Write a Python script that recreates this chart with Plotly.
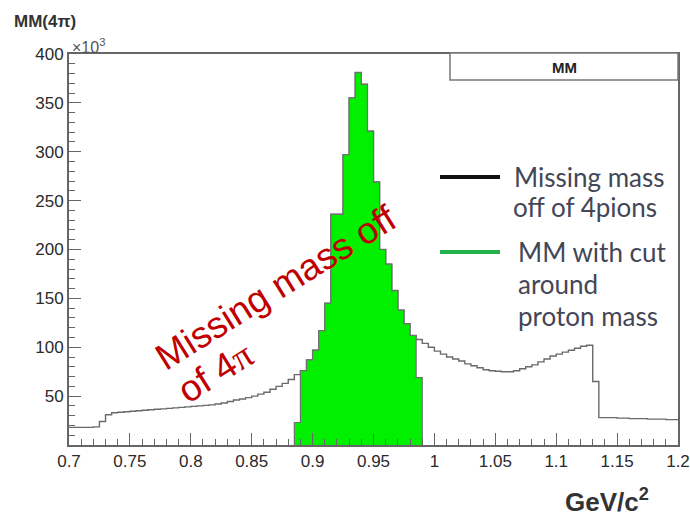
import plotly.graph_objects as go

# ---------------- data ----------------
BIN_LO = 0.700
BIN_W = 0.005
# Missing mass off of 4 pions (all events), 100 bins from 0.700 to 1.200, units of 10^3
MM_ALL = [18, 18, 18, 18, 18.5, 24, 31, 33, 33.5, 34,
          34.5, 35, 35.5, 36, 36.5, 37, 37.5, 38, 38.5, 39,
          39.5, 40, 40.5, 41, 42, 43, 44.5, 46, 47, 48.5,
          50, 52, 54, 57, 60, 63, 67, 72, 76, 87,
          97, 117, 145, 236, 236, 297, 355, 381, 369, 321,
          269, 200, 185, 158, 138, 124, 112, 108, 104, 100,
          96, 93, 90, 88, 86, 83, 81, 79, 77, 76,
          75.5, 75, 75, 76, 78, 80, 82, 85, 88, 91,
          93, 95, 97, 99, 101, 102, 65, 28, 28, 28,
          27.5, 27.5, 27, 27, 27, 26.5, 26.5, 26.5, 26, 26]
# MM with cut around proton mass: 21 bins from 0.885 to 0.990
CUT_LO = 0.885
MM_CUT = [23, 76, 87, 97, 117, 145, 236, 236, 297, 355, 381,
          369, 321, 269, 200, 185, 158, 138, 124, 112, 69]

X_RANGE = [0.7, 1.2]
Y_RANGE = [0, 400]
Y_TICKS = [50, 100, 150, 200, 250, 300, 350, 400]

LEGEND_1 = ["Missing mass", "off of 4pions"]
LEGEND_2 = ["MM with cut", "around", "proton mass"]

# ---------------- build steps ----------------
n_all = len(MM_ALL)
edges_all = [round(BIN_LO + i * BIN_W, 4) for i in range(n_all + 1)]
x_all = edges_all
y_all = MM_ALL + [MM_ALL[-1]]

n_cut = len(MM_CUT)
edges_cut = [round(CUT_LO + i * BIN_W, 4) for i in range(n_cut + 1)]
x_cut = [edges_cut[0]] + edges_cut[:-1] + [edges_cut[-1]]
y_cut = [0] + MM_CUT + [0]

W, H = 690, 516
L, R, T, B = 69, 12, 54, 71
PW, PH = W - L - R, H - T - B


def px(xp):
    return (xp - L) / PW


def py(yp):
    return (H - B - yp) / PH


fig = go.Figure()
fig.add_trace(go.Scatter(x=x_all, y=y_all, mode="lines", line_shape="hv",
                         line=dict(color="#6a6a6a", width=1.4),
                         showlegend=False, hoverinfo="skip"))
fig.add_trace(go.Scatter(x=x_cut, y=y_cut, mode="lines", line_shape="hv",
                         fill="tozeroy", fillcolor="#00f000",
                         line=dict(color="#707070", width=1.2),
                         showlegend=False, hoverinfo="skip"))

tickfont = dict(family="Liberation Sans, Arial, sans-serif", size=17, color="#2a2a2a")
axcol = "#666666"

fig.update_xaxes(range=X_RANGE, tickmode="linear", tick0=0.7, dtick=0.05,
                 ticks="inside", ticklen=12, tickwidth=1.2, tickcolor=axcol,
                 minor=dict(tickmode="linear", tick0=0.7, dtick=0.01, ticks="inside",
                            ticklen=6, tickwidth=1.2, tickcolor=axcol, showgrid=False),
                 showline=True, linecolor=axcol, linewidth=2, mirror=True,
                 showgrid=False, zeroline=False, tickfont=tickfont, automargin=False)
fig.update_yaxes(range=Y_RANGE, tickmode="array", tickvals=Y_TICKS,
                 ticktext=[str(v) for v in Y_TICKS],
                 ticks="inside", ticklen=12, tickwidth=1.2, tickcolor=axcol,
                 minor=dict(tickmode="linear", tick0=0, dtick=10, ticks="inside",
                            ticklen=6, tickwidth=1.2, tickcolor=axcol, showgrid=False),
                 showline=True, linecolor=axcol, linewidth=2, mirror=True,
                 showgrid=False, zeroline=False, tickfont=tickfont, automargin=False)

shapes = [
    # title box
    dict(type="rect", xref="paper", yref="paper", x0=px(450), x1=px(678), y0=py(80), y1=py(53),
         line=dict(color="#777777", width=1.5), fillcolor="white", layer="above"),
    # legend swatches
    dict(type="line", xref="paper", yref="paper", x0=px(440), x1=px(500), y0=py(177), y1=py(177),
         line=dict(color="#111111", width=4)),
    dict(type="line", xref="paper", yref="paper", x0=px(440), x1=px(500), y0=py(252), y1=py(252),
         line=dict(color="#22b14c", width=4)),
]

legfont = dict(family="Lato, Liberation Sans, sans-serif", size=26, color="#434656")
ann = []
for txt, xx, yy in [(LEGEND_1[0], 512, 177), (LEGEND_1[1], 511, 207),
                    (LEGEND_2[0], 516, 252), (LEGEND_2[1], 516, 284), (LEGEND_2[2], 516, 316)]:
    ann.append(dict(text=txt, xref="paper", yref="paper", x=px(xx), y=py(yy),
                    xanchor="left", yanchor="middle", showarrow=False, font=legfont))

ann += [
    dict(text="<b>MM</b>", xref="paper", yref="paper", x=px(564), y=py(67),
         xanchor="center", yanchor="middle", showarrow=False,
         font=dict(family="Liberation Sans, Arial", size=15, color="#222222")),
    dict(text="<b>MM(4π)</b>", xref="paper", yref="paper", x=px(12), y=py(22),
         xanchor="left", yanchor="middle", showarrow=False,
         font=dict(family="Liberation Sans, Arial", size=17, color="#333333")),
    dict(text="×10<sup>3</sup>", xref="paper", yref="paper", x=px(70), y=py(46),
         xanchor="left", yanchor="middle", showarrow=False,
         font=dict(family="Liberation Sans, Arial", size=16, color="#555555")),
    dict(text="<b>GeV/c<sup>2</sup></b>", xref="paper", yref="paper", x=px(607), y=py(500),
         xanchor="center", yanchor="middle", showarrow=False,
         font=dict(family="Liberation Sans, Arial", size=26, color="#333333")),
    dict(text="Missing mass off", xref="paper", yref="paper", x=px(276), y=py(287),
         xanchor="center", yanchor="middle", showarrow=False, textangle=-32,
         font=dict(family="Liberation Sans, Arial", size=37, color="#c00000")),
    dict(text="of 4<span style=\"font-family:'Liberation Serif', 'DejaVu Serif', serif\">π</span>",
         xref="paper", yref="paper", x=px(215), y=py(372),
         xanchor="center", yanchor="middle", showarrow=False, textangle=-32,
         font=dict(family="Liberation Sans, Arial", size=37, color="#c00000")),
]

fig.update_layout(width=W, height=H, margin=dict(l=L, r=R, t=T, b=B, autoexpand=False),
                  plot_bgcolor="white", paper_bgcolor="white",
                  shapes=shapes, annotations=ann, showlegend=False)

fig.write_html("out.html")
